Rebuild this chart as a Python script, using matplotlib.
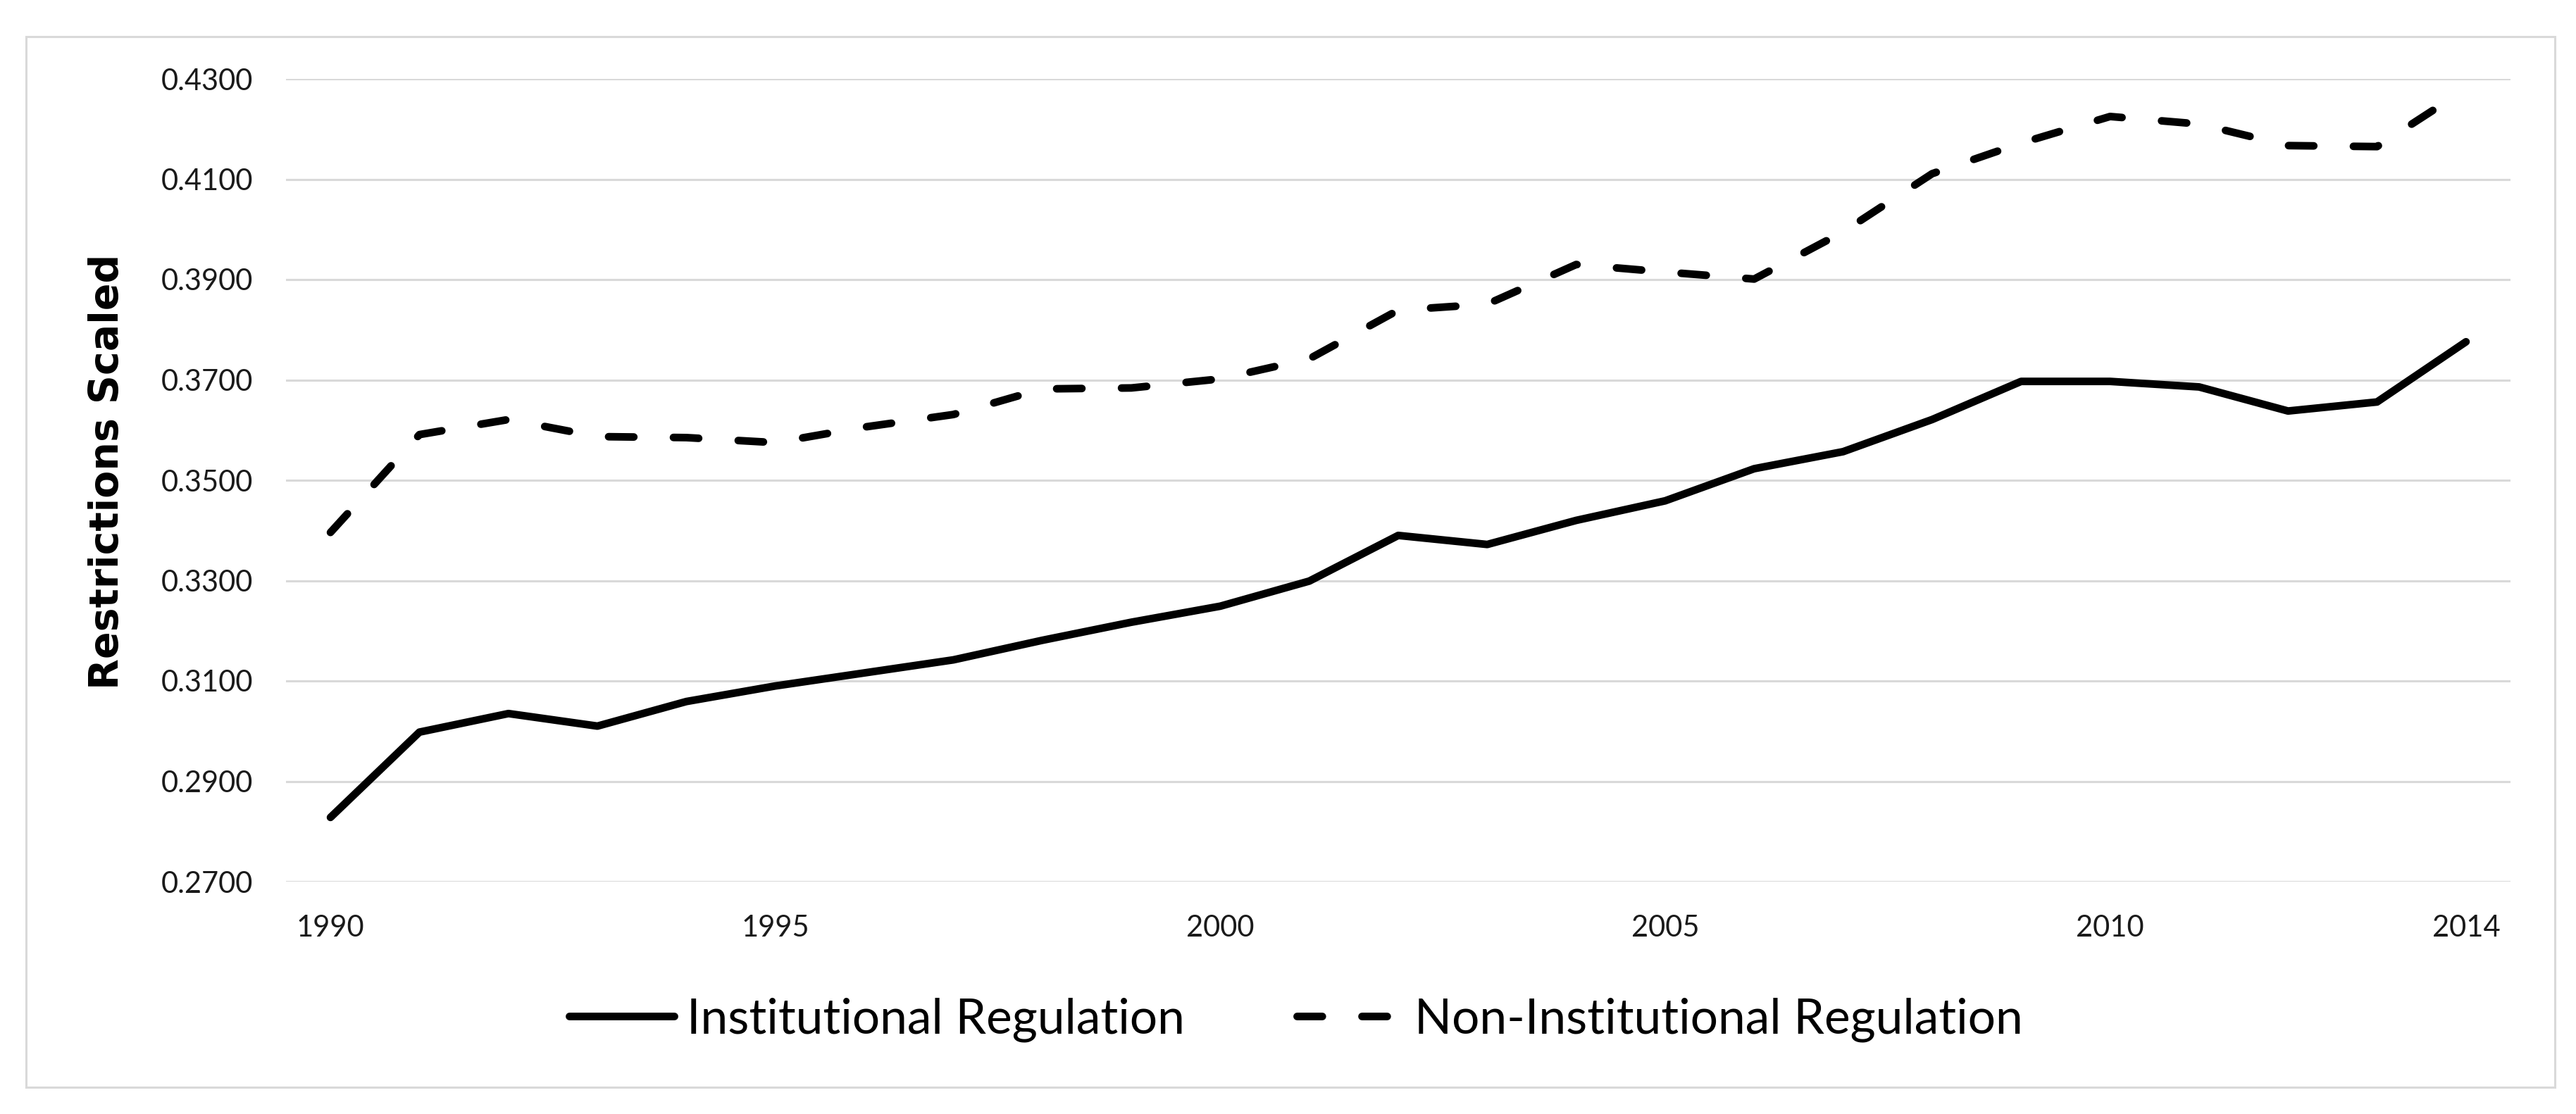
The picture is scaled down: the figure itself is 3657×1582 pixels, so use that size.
import matplotlib
matplotlib.use("Agg")
import matplotlib.pyplot as plt
from matplotlib.patches import Rectangle
import numpy as np

years = list(range(1990, 2015))
institutional = [0.2828, 0.2998, 0.3035, 0.3010, 0.3059, 0.3090, 0.3116, 0.3142, 0.3181, 0.3217,
                 0.3249, 0.3299, 0.3390, 0.3372, 0.3420, 0.3459, 0.3523, 0.3557, 0.3621, 0.3697,
                 0.3697, 0.3686, 0.3638, 0.3656, 0.3776]
non_institutional = [0.3396, 0.3591, 0.3621, 0.3587, 0.3585, 0.3575, 0.3606, 0.3631, 0.3682, 0.3684,
                     0.3702, 0.3742, 0.3839, 0.3851, 0.3930, 0.3915, 0.3901, 0.3995, 0.4111, 0.4172,
                     0.4225, 0.4210, 0.4167, 0.4165, 0.4280]
xtick_years = [1990, 1995, 2000, 2005, 2010, 2014]
yticks = [0.27, 0.29, 0.31, 0.33, 0.35, 0.37, 0.39, 0.41, 0.43]

plt.rcParams['font.family'] = ['Lato', 'DejaVu Sans']

W, H = 3657, 1582
fig = plt.figure(figsize=(W / 200, H / 200), dpi=200)
ax = fig.add_axes([406 / W, 1 - 1252 / H, (3564 - 406) / W, (1252 - 112) / H])

ax.plot(years, institutional, color='black', lw=3.9, solid_capstyle='round',
        label='Institutional Regulation')
ax.plot(years, non_institutional, color='black', lw=3.9, dashes=(3.3, 5.2),
        dash_capstyle='round', label='Non-Institutional Regulation')

ax.set_xlim(1989.5, 2014.5)
ax.set_ylim(0.27, 0.43)
ax.set_yticks(yticks)
ax.set_yticklabels(["%.4f" % v for v in yticks])
ax.set_xticks(xtick_years)
ax.set_xticklabels([str(y) for y in xtick_years])
ax.tick_params(axis='y', length=0, pad=17, labelsize=15, labelcolor='#1a1a1a')
ax.tick_params(axis='x', length=0, pad=17, labelsize=15, labelcolor='#1a1a1a')
ax.yaxis.grid(True, color='#d9d9d9', lw=1.1)
ax.set_axisbelow(True)
for s in ax.spines.values():
    s.set_visible(False)

fig.text(153 / W, 1 - 670 / H, 'Restrictions Scaled', rotation=90, ha='center', va='center',
         fontsize=20.5, fontweight='bold', color='black', family='DejaVu Sans')

fig.legend(loc='center', bbox_to_anchor=(1840 / W, 1 - 1448 / H), ncol=2, frameon=False,
           fontsize=25, handlelength=2.15, handletextpad=0.25, columnspacing=2.3)

fig.patches.append(Rectangle((37 / W, 1 - 1544 / H), (3627 - 37) / W, (1544 - 52) / H,
                             transform=fig.transFigure, fill=False, edgecolor='#d9d9d9', lw=1.1))

fig.savefig('out.png', dpi=200, facecolor='white')
